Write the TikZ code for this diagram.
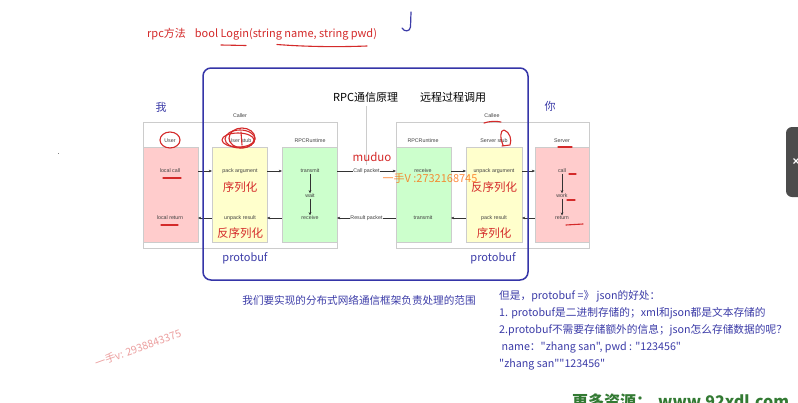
\documentclass[tikz,border=0pt]{standalone}
\usepackage{fontspec}
\setmainfont{Liberation Sans}
\newfontfamily\cjk{Noto Sans CJK SC}
\usetikzlibrary{arrows.meta}
\definecolor{hred}{HTML}{D42A2A}
\definecolor{tblue}{HTML}{3C3CA8}
\definecolor{frame}{HTML}{3535A8}
\definecolor{pinkf}{HTML}{FFCCCC}
\definecolor{yelf}{HTML}{FFFFCC}
\definecolor{grnf}{HTML}{CCFFCC}
\definecolor{gline}{HTML}{CCCCCC}
\begin{document}
\begin{tikzpicture}[x=1pt,y=-1pt,
  lbl/.style={font=\fontsize{5.3}{6}\selectfont, text=black!75, inner sep=0.5pt},
  colbox/.style={draw=gline, line width=0.4pt},
  outerbox/.style={draw=gline, line width=0.6pt},
  arr/.style={-{Stealth[length=3.2pt,width=2.6pt]}, line width=0.45pt, black!80},
  hand/.style={hred, line width=1.1pt, line cap=round, line join=round},
  redtxt/.style={font=\cjk\fontsize{11.5}{13}\selectfont, text=hred, inner sep=0pt},
  bluetxt/.style={font=\cjk\fontsize{11}{13}\selectfont, text=tblue, inner sep=0pt},
  blktxt/.style={font=\cjk\fontsize{11}{13}\selectfont, text=black, inner sep=0pt}]
\useasboundingbox (0,0) rectangle (798,402);
\fill[white] (0,0) rectangle (798,402);

% top text
\node[redtxt, anchor=west, font=\cjk\fontsize{11}{13}\selectfont] (sig) at (147,34) {rpc方法\hspace{9pt}bool Login(string name, string pwd)};
\draw[hand] (221,45) -- (246,45.5);
\draw[hand] (277,44.5) .. controls (310,47) and (340,47) .. (367,46);
\draw[tblue, line width=1.2pt, line cap=round] (411,12) -- (410.5,27) .. controls (410,32) and (404,32) .. (402,28);

% outer boxes
\draw[outerbox] (143,122) rectangle (337,248);
\draw[outerbox] (396,122) rectangle (589,248);
\node[lbl] (caller) at (240,116) {Caller};
\node[lbl] (callee) at (492,116) {Callee};

% column labels
\node[lbl] (lu) at (170,141) {User};
\node[lbl] (lus) at (240,141) {User stub};
\node[lbl] (lr1) at (310,141) {RPCRuntime};
\node[lbl] (lr2) at (423,141) {RPCRuntime};
\node[lbl] (lss) at (494,141) {Server stub};
\node[lbl] (lsv) at (562,141) {Server};

% column boxes
\draw[colbox, fill=pinkf] (143,147) rectangle (198,242);
\draw[colbox, fill=yelf] (212,147) rectangle (267,242);
\draw[colbox, fill=grnf] (282,147) rectangle (337,242);
\draw[colbox, fill=grnf] (396,147) rectangle (451,242);
\draw[colbox, fill=yelf] (466,147) rectangle (522,242);
\draw[colbox, fill=pinkf] (535,147) rectangle (589,242);

% texts in boxes
\node[lbl] (lcall) at (170,171) {local call};
\node[lbl] (lret) at (170,218) {local return};
\node[lbl] (pack) at (240,171) {pack argument};
\node[lbl] (unpk) at (240,218) {unpack result};
\node[lbl] (tx1) at (310,171) {transmit};
\node[lbl] (wait) at (310,196) {wait};
\node[lbl] (rx1) at (310,218) {receive};
\node[lbl] (rx2) at (423,171) {receive};
\node[lbl] (tx2) at (423,218) {transmit};
\node[lbl] (unpa) at (494,171) {unpack argument};
\node[lbl] (pres) at (494,218) {pack result};
\node[lbl] (call) at (562,171) {call};
\node[lbl] (work) at (562,196) {work};
\node[lbl] (ret) at (562,218) {return};

% arrows
\coordinate (a1) at (198,171); \coordinate (a2) at (212,171);
\coordinate (a3) at (267,171); \coordinate (a4) at (282,171);
\coordinate (a5) at (337,171); \coordinate (a6) at (396,171);
\coordinate (a7) at (451,171); \coordinate (a8) at (466,171);
\coordinate (a9) at (522,171); \coordinate (a10) at (535,171);
\coordinate (b1) at (198,218); \coordinate (b2) at (212,218);
\coordinate (b3) at (267,218); \coordinate (b4) at (282,218);
\coordinate (b5) at (337,218); \coordinate (b6) at (396,218);
\coordinate (b7) at (451,218); \coordinate (b8) at (466,218);
\coordinate (b9) at (522,218); \coordinate (b10) at (535,218);
\draw[arr] (a1) -- (a2);
\draw[arr] (a3) -- (a4);
\draw[arr] (a5) -- node[lbl, fill=white] {Call packet} (a6);
\draw[arr] (a7) -- (a8);
\draw[arr] (a9) -- (a10);
\draw[arr] (b2) -- (b1);
\draw[arr] (b4) -- (b3);
\draw[arr] (b6) -- node[lbl, fill=white] {Result packet} (b5);
\draw[arr] (b8) -- (b7);
\draw[arr] (b10) -- (b9);
\draw[arr] (tx1) -- (wait);
\draw[arr] (wait) -- (rx1);
\draw[arr] (call) -- (work);
\draw[arr] (work) -- (ret);

% frame
\draw[frame, line width=1.5pt, rounded corners=8pt] (203,68) rectangle (528,280);

% headings
\node[blktxt, anchor=west] (h1) at (333,97) {RPC通信原理};
\node[blktxt, anchor=west] (h2) at (420,97) {远程过程调用};
\draw[gline, line width=0.6pt] (366,106) -- (366,165);
\node[bluetxt] (me) at (161,107) {我};
\node[bluetxt] (you) at (550,106) {你};

% red labels
\node[redtxt] (muduo) at (372,157) {muduo};
\node[redtxt] (s1) at (240,187) {序列化};
\node[redtxt] (s2) at (240,233) {反序列化};
\node[redtxt] (s3) at (494,187) {反序列化};
\node[redtxt] (s4) at (494,233) {序列化};

% protobuf
\node[bluetxt] (pb1) at (245,258) {protobuf};
\node[bluetxt] (pb2) at (493,258) {protobuf};

% caption
\node[bluetxt, font=\cjk\fontsize{10.6}{12}\selectfont] (cap) at (359,300) {我们要实现的分布式网络通信框架负责处理的范围};

% right text
\node[bluetxt, anchor=north west, align=left, font=\cjk\fontsize{10.7}{17}\selectfont] (notes) at (499,290) {但是，protobuf =》 json的好处：\\1. protobuf是二进制存储的；xml和json都是文本存储的\\2.protobuf不需要存储额外的信息；json怎么存储数据的呢？\\\ name："zhang san", pwd : "123456"\\"zhang san""123456"};

% red handwriting annotations
\draw[hand] (170,140) ellipse [x radius=10, y radius=8];
\draw[hand] (240,139) ellipse [x radius=15, y radius=9];
\draw[hand] (242,138) ellipse [x radius=13, y radius=10];
\draw[hand] (238,140) ellipse [x radius=16, y radius=7];
\draw[hand] (241,132) -- (242,145);
\draw[hand] (163,178) -- (181,178);
\draw[hand] (161,225) -- (178,225);
\draw[hand] (484,123) .. controls (490,121) and (496,121) .. (501,122);
\draw[hand] (503,145) .. controls (500,138) and (500,130) .. (504,130) .. controls (510,132) and (512,140) .. (510,145) -- (502,146);
\draw[hand] (558,147) -- (572,147);
\draw[hand] (569,174) -- (576,174);
\draw[hand] (567,200) -- (575,200);
\draw[hand] (566,225) -- (583,224);

% watermarks
\node[font=\cjk\fontsize{11}{12}\selectfont, text=orange!80!red, opacity=0.75, inner sep=0pt] (wm1) at (430,178) {一手V :2732168745};
\node[font=\cjk\fontsize{10.5}{12}\selectfont, text=hred!45, rotate=20, inner sep=0pt] (wm2) at (138,348) {一手v: 2938843375};

% misc
\fill[black!50] (57.5,152.5) rectangle (59,154);
\fill[black!70, rounded corners=6pt] (786,127) rectangle (810,197);
\node[text=white, font=\fontsize{12}{12}\selectfont\bfseries] (x) at (796,162) {×};
\node[anchor=north west, text=green!35!black!80, font=\cjk\bfseries\fontsize{16}{18}\selectfont, inner sep=0pt] (more) at (572,394) {更多资源：\hspace{6pt}www.92xdl.com};
\end{tikzpicture}
\end{document}
